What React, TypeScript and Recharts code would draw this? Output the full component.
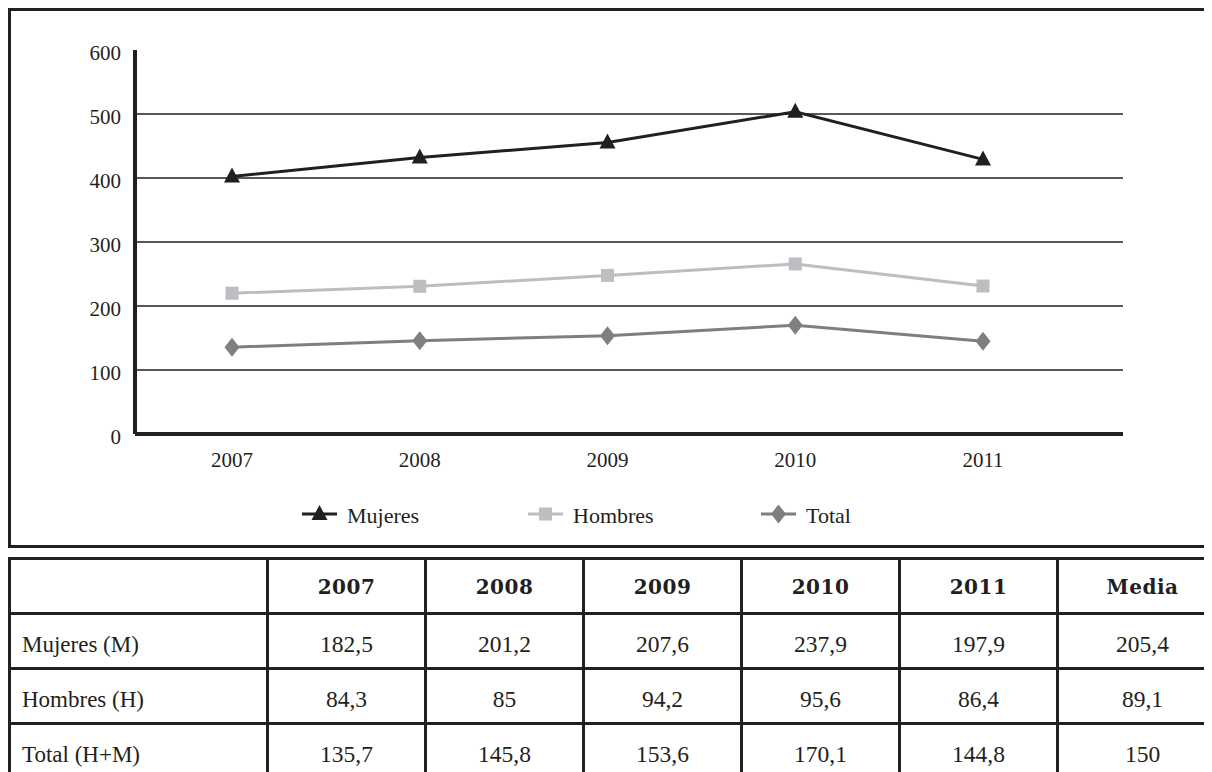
import { ComposedChart, Area, XAxis, YAxis, CartesianGrid } from "recharts";

const years = ["2007", "2008", "2009", "2010", "2011"];
const mujeres = [182.5, 201.2, 207.6, 237.9, 197.9];
const hombres = [84.3, 85, 94.2, 95.6, 86.4];
const total = [135.7, 145.8, 153.6, 170.1, 144.8];
const media = [205.4, 89.1, 150];
const rowLabels = ["Mujeres (M)", "Hombres (H)", "Total (H+M)"];
const yTicks = [0, 100, 200, 300, 400, 500, 600];
const gridValues = [100, 200, 300, 400, 500];

const INK = "#231f20";
const SERIF = "'Liberation Serif', 'Times New Roman', serif";

type Shape = "triangle" | "square" | "diamond";

const Marker = ({ shape, cx, cy, color }: { shape: Shape; cx: number; cy: number; color: string }) => {
  if (shape === "triangle")
    return <polygon points={`${cx},${cy - 9} ${cx - 8},${cy + 6} ${cx + 8},${cy + 6}`} fill={color} />;
  if (shape === "square") return <rect x={cx - 6.5} y={cy - 6.5} width={13} height={13} fill={color} />;
  return <polygon points={`${cx},${cy - 9.5} ${cx + 7.5},${cy} ${cx},${cy + 9.5} ${cx - 7.5},${cy}`} fill={color} />;
};

// stacked from the bottom: Total, then Hombres, then Mujeres on top
const series: { key: string; name: string; color: string; shape: Shape }[] = [
  { key: "total", name: "Total", color: "#7f7f82", shape: "diamond" },
  { key: "hombres", name: "Hombres", color: "#bdbec1", shape: "square" },
  { key: "mujeres", name: "Mujeres", color: INK, shape: "triangle" },
];

const legendOrder = ["mujeres", "hombres", "total"];
const legendLeft = [291, 517, 750];

const data = years.map((year, i) => ({
  year,
  mujeres: mujeres[i],
  hombres: hombres[i],
  total: total[i],
}));

const tableRows = [mujeres, hombres, total];

const cellBorder = `3px solid ${INK}`;

const App = () => {
  return (
    <div style={{ position: "relative", width: 1204, height: 764, overflow: "hidden", fontFamily: SERIF, color: INK }}>
      <div
        style={{
          position: "absolute",
          top: 0,
          left: 0,
          width: 1201,
          height: 534,
          borderTop: cellBorder,
          borderLeft: cellBorder,
          borderBottom: cellBorder,
        }}
      >
        <ComposedChart
          width={1201}
          height={534}
          data={data}
          margin={{ top: 39, right: 89, left: 0, bottom: 81 }}
          style={{ fontFamily: SERIF }}
        >
          <CartesianGrid vertical={false} horizontalValues={gridValues} stroke={INK} strokeWidth={1.6} />
          <XAxis
            dataKey="year"
            padding={{ left: 97, right: 140 }}
            tickLine={false}
            tickSize={0}
            tickMargin={18}
            axisLine={{ stroke: INK, strokeWidth: 4 }}
            tick={{ fill: INK, fontSize: 21, fontFamily: SERIF }}
          />
          <YAxis
            width={124}
            domain={[0, 600]}
            ticks={yTicks}
            interval={0}
            tickLine={false}
            tickSize={0}
            tickMargin={14}
            axisLine={{ stroke: INK, strokeWidth: 4 }}
            tick={{ fill: INK, fontSize: 21, fontFamily: SERIF, dy: 3 }}
          />
          {series.map((s) => (
            <Area
              key={s.key}
              type="linear"
              dataKey={s.key}
              name={s.name}
              stackId="stack"
              stroke={s.color}
              strokeWidth={3}
              fill="none"
              fillOpacity={0}
              isAnimationActive={false}
              activeDot={false}
              dot={(p: any) => (
                <Marker key={`${s.key}-${p.index}`} shape={s.shape} cx={p.cx} cy={p.cy} color={s.color} />
              )}
            />
          ))}
        </ComposedChart>

        {legendOrder.map((key, i) => {
          const s = series.find((x) => x.key === key)!;
          return (
            <div
              key={key}
              style={{
                position: "absolute",
                top: 491,
                left: legendLeft[i],
                height: 24,
                display: "flex",
                alignItems: "center",
                fontSize: 22,
                whiteSpace: "nowrap",
              }}
            >
              <svg width={35} height={24} style={{ marginRight: 10 }}>
                <line x1={0} y1={12} x2={35} y2={12} stroke={s.color} strokeWidth={3} />
                <Marker shape={s.shape} cx={17.5} cy={12} color={s.color} />
              </svg>
              <span style={{ lineHeight: "24px", marginTop: 4 }}>{s.name}</span>
            </div>
          );
        })}
      </div>

      <table
        style={{
          position: "absolute",
          top: 549,
          left: 0,
          borderCollapse: "collapse",
          tableLayout: "fixed",
          width: 1218,
        }}
      >
        <colgroup>
          <col style={{ width: 258 }} />
          {years.map((y) => (
            <col key={y} style={{ width: 158 }} />
          ))}
          <col style={{ width: 170 }} />
        </colgroup>
        <tbody>
          <tr style={{ height: 55 }}>
            <td style={{ border: cellBorder }} />
            {[...years, "Media"].map((h) => (
              <td
                key={h}
                style={{
                  border: cellBorder,
                  textAlign: "center",
                  fontFamily: "'DejaVu Serif', serif",
                  fontWeight: "bold",
                  fontSize: 20,
                  letterSpacing: 0.5,
                  paddingTop: 2,
                }}
              >
                {h}
              </td>
            ))}
          </tr>
          {tableRows.map((row, r) => (
            <tr key={rowLabels[r]} style={{ height: 55 }}>
              <td style={{ border: cellBorder, fontSize: 23, paddingLeft: 11, paddingTop: 8 }}>{rowLabels[r]}</td>
              {[...row, media[r]].map((v, c) => (
                <td key={c} style={{ border: cellBorder, textAlign: "center", fontSize: 23.5, paddingTop: 8 }}>
                  {v.toLocaleString("es-ES")}
                </td>
              ))}
            </tr>
          ))}
        </tbody>
      </table>
    </div>
  );
};

export default App;
